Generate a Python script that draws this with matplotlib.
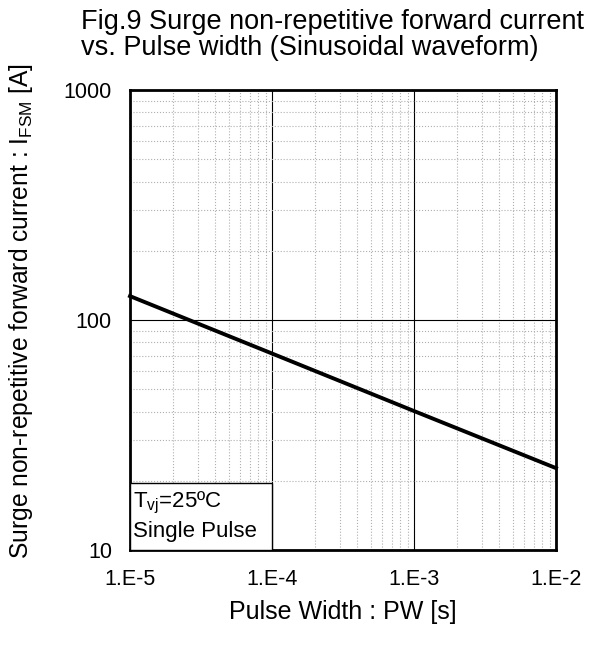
import matplotlib
matplotlib.use("Agg")
import matplotlib.pyplot as plt
from matplotlib.ticker import LogLocator, NullFormatter, FixedLocator

plt.rcParams['font.family'] = ['Liberation Sans', 'DejaVu Sans']
plt.rcParams['mathtext.fontset'] = 'custom'
plt.rcParams['mathtext.rm'] = 'Liberation Sans'
plt.rcParams['mathtext.it'] = 'Liberation Sans'

# Data
pulse_width = [1e-5, 1e-4, 1e-3, 1e-2]
i_fsm = [127, 71.5, 40.2, 22.7]

x_ticks = [1e-5, 1e-4, 1e-3, 1e-2]
x_labels = ['1.E-5', '1.E-4', '1.E-3', '1.E-2']
y_ticks = [10, 100, 1000]
y_labels = ['10', '100', '1000']

fig = plt.figure(figsize=(5.98, 6.55), dpi=100)
ax = fig.add_axes([130 / 598, 1 - 550 / 655, 426 / 598, 460 / 655])

ax.set_xscale('log')
ax.set_yscale('log')
ax.set_xlim(1e-5, 1e-2)
ax.set_ylim(10, 1000)

# Grid
ax.xaxis.set_minor_locator(LogLocator(base=10, subs=range(2, 10)))
ax.yaxis.set_minor_locator(LogLocator(base=10, subs=range(2, 10)))
ax.xaxis.set_minor_formatter(NullFormatter())
ax.yaxis.set_minor_formatter(NullFormatter())
ax.grid(which='minor', color='#b0b0b0', linestyle=':', linewidth=0.8)
ax.grid(which='major', color='black', linestyle='-', linewidth=0.8)

ax.xaxis.set_major_locator(FixedLocator(x_ticks))
ax.yaxis.set_major_locator(FixedLocator(y_ticks))
ax.set_xticklabels(x_labels, fontsize=15.5)
ax.set_yticklabels(y_labels, fontsize=15.5)
ax.tick_params(axis='y', which='both', length=0, pad=13)
ax.tick_params(axis='x', which='both', length=0, pad=14)

for s in ax.spines.values():
    s.set_linewidth(2)
    s.set_color('black')

# Curve
ax.plot(pulse_width, i_fsm, color='black', linewidth=2.8, clip_on=False, zorder=5)

# Condition box
box = plt.Rectangle((0, 0), 142 / 426, 67 / 460, transform=ax.transAxes,
                    facecolor='white', edgecolor='black', linewidth=1, zorder=6)
ax.add_patch(box)
ax.text(3 / 426, 47 / 460, r'T$_{\mathrm{vj}}$=25ºC', transform=ax.transAxes,
        fontsize=16, va='center', ha='left', zorder=7)
ax.text(3 / 426, 19 / 460, 'Single Pulse', transform=ax.transAxes,
        fontsize=16, va='center', ha='left', zorder=7)

# Titles and labels
fig.text(81 / 598, 1 - 35 / 655, 'Fig.9 Surge non-repetitive forward current\nvs. Pulse width (Sinusoidal waveform)',
         fontsize=19.5, ha='left', va='center', linespacing=1.0)
fig.text(343 / 598, 1 - 612 / 655, 'Pulse Width : PW [s]', fontsize=18,
         ha='center', va='center')
fig.text(21 / 598, 1 - 311 / 655, r'Surge non-repetitive forward current : I$_{\mathrm{FSM}}$ [A]',
         fontsize=17.7, ha='center', va='center', rotation=90)

fig.savefig('out.png', dpi=100)
